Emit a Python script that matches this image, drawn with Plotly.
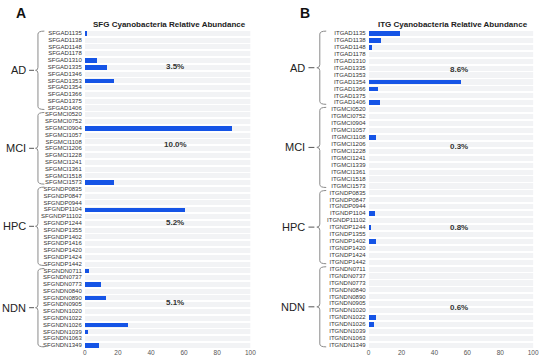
import plotly.graph_objects as go

# ---------------- data ----------------
sfg_groups = ["AD", "MCI", "HPC", "NDN"]
sfg_ad = ["SFGAD1135", "SFGAD1138", "SFGAD1148", "SFGAD1178", "SFGAD1310", "SFGAD1335",
          "SFGAD1346", "SFGAD1353", "SFGAD1354", "SFGAD1366", "SFGAD1375", "SFGAD1406"]
sfg_mci = ["SFGMCI0520", "SFGMCI0752", "SFGMCI0904", "SFGMCI1057", "SFGMCI1108", "SFGMCI1206",
           "SFGMCI1228", "SFGMCI1241", "SFGMCI1361", "SFGMCI1518", "SFGMCI1573"]
sfg_hpc = ["SFGNDP0835", "SFGNDP0847", "SFGNDP0944", "SFGNDP1104", "SFGNDP11102", "SFGNDP1244",
           "SFGNDP1355", "SFGNDP1402", "SFGNDP1416", "SFGNDP1420", "SFGNDP1424", "SFGNDP1442"]
sfg_ndn = ["SFGNDN0711", "SFGNDN0737", "SFGNDN0773", "SFGNDN0840", "SFGNDN0890", "SFGNDN0905",
           "SFGNDN1020", "SFGNDN1022", "SFGNDN1026", "SFGNDN1039", "SFGNDN1063", "SFGNDN1349"]
sfg_ad_val = [1.2, 0, 0, 0, 7.5, 13.0, 0, 17.3, 0, 0, 0, 0]
sfg_mci_val = [0, 0, 89.0, 0, 0, 0, 0, 0, 0, 0, 17.7]
sfg_hpc_val = [0, 0, 0, 60.7, 0, 0, 0, 0, 0, 0, 0, 0]
sfg_ndn_val = [2.2, 0, 9.4, 0, 12.4, 0, 0, 0, 25.7, 1.6, 0, 8.6]
sfg_pct = ["3.5%", "10.0%", "5.2%", "5.1%"]

itg_groups = ["AD", "MCI", "HPC", "NDN"]
itg_ad = ["ITGAD1135", "ITGAD1138", "ITGAD1148", "ITGAD1178", "ITGAD1310", "ITGAD1335",
          "ITGAD1353", "ITGAD1354", "ITGAD1366", "ITGAD1375", "ITGAD1406"]
itg_mci = ["ITGMCI0520", "ITGMCI0752", "ITGMCI0904", "ITGMCI1057", "ITGMCI1108", "ITGMCI1206",
           "ITGMCI1228", "ITGMCI1241", "ITGMCI1339", "ITGMCI1361", "ITGMCI1518", "ITGMCI1573"]
itg_hpc = ["ITGNDP0835", "ITGNDP0847", "ITGNDP0944", "ITGNDP1104", "ITGNDP11102", "ITGNDP1244",
           "ITGNDP1355", "ITGNDP1402", "ITGNDP1420", "ITGNDP1424", "ITGNDP1442"]
itg_ndn = ["ITGNDN0711", "ITGNDN0737", "ITGNDN0773", "ITGNDN0840", "ITGNDN0890", "ITGNDN0905",
           "ITGNDN1020", "ITGNDN1022", "ITGNDN1026", "ITGNDN1039", "ITGNDN1063", "ITGNDN1349"]
itg_ad_val = [18.8, 7.4, 1.6, 0, 0, 0, 0, 56.0, 5.2, 0, 6.6]
itg_mci_val = [0, 0, 0, 0, 4.0, 0, 0, 0, 0, 0, 0, 0]
itg_hpc_val = [0, 0, 0, 3.6, 0, 1.0, 0, 4.2, 0, 0, 0]
itg_ndn_val = [0, 0, 0, 0, 0, 0, 0, 4.2, 3.2, 0, 0, 0]
itg_pct = ["8.6%", "0.3%", "0.8%", "0.6%"]

x_ticks = [0, 20, 40, 60, 80, 100]
XMAX = 100

# ---------------- styling / layout ----------------
W, H = 550, 361
BLUE = "#1554e6"
BAND = "#f2f3f5"
FONT = "Liberation Sans"
y_dom = [1 - 348.4 / H, 1 - 29.6 / H]

panels = [
    dict(title="SFG Cyanobacteria Relative Abundance", letter="A",
         cats=[sfg_ad, sfg_mci, sfg_hpc, sfg_ndn],
         vals=[sfg_ad_val, sfg_mci_val, sfg_hpc_val, sfg_ndn_val],
         groups=sfg_groups, pct=sfg_pct, xdom=[84 / W, 252 / W],
         pct_rows=[5.0, 16.4, 28.0, 39.8],
         lab_r=26.5, dash=(27.5, 32.5), tip=34.0, vline=36.5, end=43.0, letter_x=19),
    dict(title="ITG Cyanobacteria Relative Abundance", letter="B",
         cats=[itg_ad, itg_mci, itg_hpc, itg_ndn],
         vals=[itg_ad_val, itg_mci_val, itg_hpc_val, itg_ndn_val],
         groups=itg_groups, pct=itg_pct, xdom=[372 / W, 539 / W],
         pct_rows=[5.2, 16.4, 28.0, 39.6],
         lab_r=309.5, dash=(311, 317), tip=319.5, vline=322.5, end=329.0, letter_x=307.5),
]

fig = go.Figure()
shapes = []
annotations = []

for i, p in enumerate(panels):
    xa = "x" if i == 0 else "x2"
    ya = "y" if i == 0 else "y2"
    cats = [c for g in p["cats"] for c in g]
    vals = [v for g in p["vals"] for v in g]
    n = len(cats)
    fig.add_trace(go.Bar(x=[XMAX] * n, y=cats, orientation="h", marker_color=BAND,
                         marker_line_width=0,
                         width=0.74, xaxis=xa, yaxis=ya, hoverinfo="skip", showlegend=False))
    fig.add_trace(go.Bar(x=vals, y=cats, orientation="h", marker_color=BLUE,
                         marker_line_width=0,
                         width=0.66, xaxis=xa, yaxis=ya, showlegend=False))

    axsuf = "" if i == 0 else "2"
    fig.update_layout(**{
        "xaxis" + axsuf: dict(domain=p["xdom"], range=[0, XMAX], tickvals=x_ticks,
                              showgrid=False, zeroline=False, showline=False,
                              tickfont=dict(size=6.5, color="#555", family=FONT),
                              anchor=ya, ticklen=0, ticklabelstandoff=-1),
        "yaxis" + axsuf: dict(domain=y_dom, range=[n - 0.5, -0.5], type="category",
                              tickmode="array", tickvals=cats, ticktext=cats,
                              showgrid=False, zeroline=False, showline=False,
                              tickfont=dict(size=6, color="#333", family=FONT),
                              anchor=xa, ticklen=0, ticklabelstandoff=2),
    })

    def ypix(idx, n=n):
        top, bot = 29.6, 348.4
        return top + (idx + 0.5) / n * (bot - top)

    cx = (p["xdom"][0] + p["xdom"][1]) / 2 + 2 / W
    annotations.append(dict(x=cx, y=1 - 24 / H, xref="paper", yref="paper",
                            text="<b>" + p["title"] + "</b>", showarrow=False,
                            font=dict(size=8, color="#222", family=FONT),
                            xanchor="center", yanchor="middle"))
    annotations.append(dict(x=p["letter_x"] / W, y=1 - 12.5 / H, xref="paper", yref="paper",
                            text="<b>" + p["letter"] + "</b>", showarrow=False,
                            font=dict(size=14, color="#111", family=FONT),
                            xanchor="center", yanchor="middle"))

    start = 0
    for g, (gname, gcats) in enumerate(zip(p["groups"], p["cats"])):
        cnt = len(gcats)
        annotations.append(dict(x=54.7, y=p["pct_rows"][g], xref=xa, yref=ya,
                                text="<b>" + p["pct"][g] + "</b>", showarrow=False,
                                font=dict(size=8, color="#333", family=FONT),
                                xanchor="center", yanchor="middle"))
        T = ypix(start - 0.5) + 1.5
        B = ypix(start + cnt - 0.5) - 1.5
        M = (T + B) / 2
        annotations.append(dict(x=p["lab_r"] / W, y=1 - M / H, xref="paper", yref="paper",
                                text=gname, showarrow=False,
                                font=dict(size=11, color="#222", family=FONT),
                                xanchor="right", yanchor="middle"))
        xv, xt, xe = p["vline"], p["tip"], p["end"]

        def P(x, y):
            return f"{x / W:.5f},{1 - y / H:.5f}"
        path = (f"M{P(xe, T)} Q{P(xv, T)} {P(xv, T + 3)} L{P(xv, M - 3)} "
                f"Q{P(xv, M)} {P(xt, M)} Q{P(xv, M)} {P(xv, M + 3)} "
                f"L{P(xv, B - 3)} Q{P(xv, B)} {P(xe, B)}")
        shapes.append(dict(type="path", path=path, xref="paper", yref="paper",
                           line=dict(color="#8a8a8a", width=1)))
        shapes.append(dict(type="line", xref="paper", yref="paper",
                           x0=p["dash"][0] / W, x1=p["dash"][1] / W,
                           y0=1 - M / H, y1=1 - M / H,
                           line=dict(color="#555", width=1)))
        start += cnt

fig.update_layout(width=W, height=H, margin=dict(l=0, r=0, t=0, b=0),
                  paper_bgcolor="white", plot_bgcolor="white", barmode="overlay",
                  bargap=0, shapes=shapes, annotations=annotations,
                  font=dict(family=FONT))

fig.write_html("out.html", config={"displayModeBar": False},
               post_script="document.body.style.margin='0px';"
               "document.body.style.padding='0px';document.body.style.overflow='hidden';")
